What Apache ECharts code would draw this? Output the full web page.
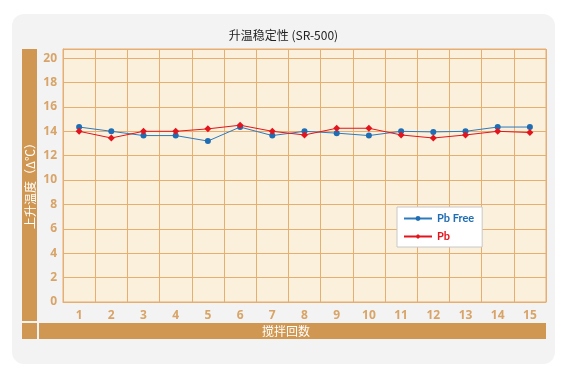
<!DOCTYPE html>
<html>
<head>
<meta charset="utf-8">
<script src="https://cdn.jsdelivr.net/npm/echarts@6/dist/echarts.min.js"></script>
<style>
  html, body { margin: 0; padding: 0; background: #fff; }
  #chart { width: 567px; height: 378px; }
</style>
</head>
<body>
<div id="chart"></div>
<script>
// 搅拌回数
const categories = ['1', '2', '3', '4', '5', '6', '7', '8', '9', '10', '11', '12', '13', '14', '15']
// 上升温度 (Δ℃)
const pbFree = [14.35, 14.0, 13.65, 13.65, 13.2, 14.35, 13.65, 14.0, 13.85, 13.65, 14.0, 13.95, 14.0, 14.35, 14.35]
const pb = [14.0, 13.45, 14.0, 14.0, 14.2, 14.5, 14.0, 13.7, 14.25, 14.25, 13.7, 13.45, 13.7, 14.0, 13.9]

const brown = '#CF9752'
const gridColor = '#E6AE70'
const labelColor = '#D8A468'

const chart = echarts.init(document.getElementById('chart'))
const option = {
  backgroundColor: '#fff',
  animation: false,
  title: {
    text: '升温稳定性 (SR-500)',
    left: 'center',
    top: 24,
    textStyle: { fontFamily: 'Noto Sans CJK SC', fontSize: 12, fontWeight: 'normal', color: '#222' }
  },
  graphic: [
    // 背景面板
    { type: 'rect', z: -10, shape: { x: 12, y: 14, width: 543, height: 350, r: 12 }, style: { fill: '#F3F3F3' } },
    // 左侧标题条
    { type: 'rect', z: -5, shape: { x: 22, y: 49, width: 15, height: 272 }, style: { fill: brown } },
    {
      type: 'text', z: 5, x: 30, y: 183, rotation: Math.PI / 2,
      style: { text: '上升温度（Δ℃）', fill: '#fff', font: '12px "Noto Sans CJK SC"', align: 'center', verticalAlign: 'middle' }
    },
    // 底部标题条
    { type: 'rect', z: -5, shape: { x: 22, y: 323, width: 15, height: 16 }, style: { fill: brown } },
    { type: 'rect', z: -5, shape: { x: 39, y: 323, width: 507, height: 16 }, style: { fill: brown } },
    {
      type: 'text', z: 5, x: 286, y: 331,
      style: { text: '搅拌回数', fill: '#fff', font: '12px "Noto Sans CJK SC"', align: 'center', verticalAlign: 'middle' }
    }
  ],
  legend: {
    orient: 'vertical',
    left: 397,
    top: 207,
    backgroundColor: '#fff',
    borderColor: '#C8C8C8',
    borderWidth: 1,
    borderRadius: 0,
    padding: [6, 8, 5, 6],
    itemGap: 7,
    itemWidth: 28,
    itemHeight: 6,
    textStyle: { fontFamily: 'Lato', fontSize: 11, fontWeight: 'bold' },
    data: [
      { name: 'Pb Free', textStyle: { color: '#1F6DB3' } },
      { name: 'Pb', textStyle: { color: '#E3141C' } }
    ]
  },
  grid: {
    left: 63,
    right: 21,
    top: 49,
    bottom: 76,
    show: true,
    backgroundColor: '#FBF0DC',
    borderColor: gridColor,
    borderWidth: 1
  },
  xAxis: {
    type: 'category',
    data: categories,
    boundaryGap: true,
    axisLine: { show: true, lineStyle: { color: gridColor } },
    axisTick: { show: false },
    splitLine: { show: true, lineStyle: { color: gridColor } },
    axisLabel: { color: labelColor, fontFamily: 'Open Sans', fontWeight: 'bold', fontSize: 12, margin: 8, interval: 0 }
  },
  yAxis: {
    type: 'value',
    min: 0,
    max: 20.75,
    interval: 2,
    axisLine: { show: true, lineStyle: { color: gridColor } },
    axisTick: { show: false },
    splitLine: { show: true, lineStyle: { color: gridColor } },
    axisLabel: {
      color: labelColor, fontFamily: 'Open Sans', fontWeight: 'bold', fontSize: 12, margin: 6,
      showMaxLabel: false,
      formatter: function (v) { return v % 2 === 0 ? String(v) : '' }
    }
  },
  series: [
    {
      name: 'Pb Free',
      type: 'line',
      data: pbFree,
      symbol: 'circle',
      symbolSize: 6,
      color: '#1F6DB3',
      lineStyle: { width: 1, color: '#2C7BBE' }
    },
    {
      name: 'Pb',
      type: 'line',
      data: pb,
      symbol: 'diamond',
      symbolSize: 7,
      color: '#E3141C',
      lineStyle: { width: 1, color: '#E3141C' }
    }
  ]
}
chart.setOption(option)
</script>
</body>
</html>
